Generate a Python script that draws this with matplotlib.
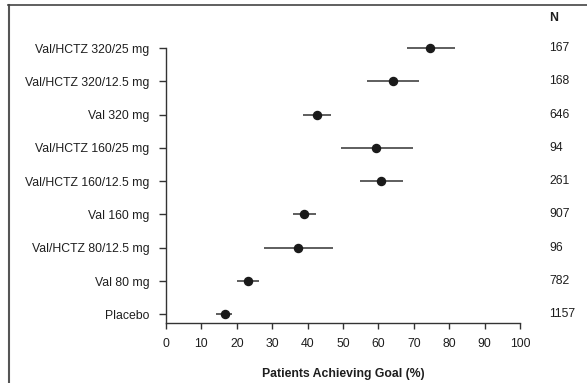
import matplotlib
matplotlib.use("Agg")
import matplotlib.pyplot as plt
from matplotlib.lines import Line2D
from matplotlib.transforms import blended_transform_factory

plt.rcParams['font.family'] = ['Liberation Sans', 'DejaVu Sans']

groups = ["Val/HCTZ 320/25 mg", "Val/HCTZ 320/12.5 mg", "Val 320 mg",
          "Val/HCTZ 160/25 mg", "Val/HCTZ 160/12.5 mg", "Val 160 mg",
          "Val/HCTZ 80/12.5 mg", "Val 80 mg", "Placebo"]
estimate = [74.7, 64.1, 42.6, 59.4, 60.7, 39.1, 37.3, 23.1, 16.6]
ci_low = [68.2, 56.9, 38.7, 49.4, 54.9, 35.8, 27.7, 20.1, 14.1]
ci_high = [81.5, 71.6, 46.6, 69.8, 67.0, 42.5, 47.3, 26.3, 18.7]
n_values = ["167", "168", "646", "94", "261", "907", "96", "782", "1157"]
x_ticks = [0, 10, 20, 30, 40, 50, 60, 70, 80, 90, 100]

W, H = 587, 383
fig = plt.figure(figsize=(W / 100, H / 100), dpi=100)
ax = fig.add_axes([166 / W, 1 - 323.3 / H, (520 - 166) / W, (323.3 - 48) / H])

fs = 8.8
k = len(groups)
ypos = [k - 1 - i for i in range(k)]
dark = "#1e1e1e"
for y, e, lo, hi in zip(ypos, estimate, ci_low, ci_high):
    ax.plot([lo, hi], [y, y], color="#333333", lw=1.1, solid_capstyle="butt", zorder=2, clip_on=False)
    ax.plot([e], [y], marker="o", ms=5.8, color="#1a1a1a", zorder=3, clip_on=False)

ax.set_xlim(0, 100)
ax.set_ylim(-0.27, k - 1)
ax.set_yticks(ypos)
ax.set_yticklabels(groups, fontsize=fs, color=dark)
ax.set_xticks(x_ticks)
ax.set_xticklabels([str(t) for t in x_ticks], fontsize=fs, color=dark)
ax.tick_params(axis="y", direction="out", length=5, width=1, color="#333333", pad=7)
ax.tick_params(axis="x", direction="out", length=4, width=1, color="#333333", pad=6.5)
for s in ["top", "right"]:
    ax.spines[s].set_visible(False)
for s in ["left", "bottom"]:
    ax.spines[s].set_color("#333333")
    ax.spines[s].set_linewidth(1)
ax.set_xlabel("Patients Achieving Goal (%)", fontsize=fs, fontweight="bold", color=dark, labelpad=13)

# N column
tr = blended_transform_factory(fig.transFigure, ax.transData)
for y, n in zip(ypos, n_values):
    ax.text(549.5 / W, y, n, transform=tr, fontsize=fs, color=dark, ha="left", va="center", clip_on=False)
fig.text(549.5 / W, 1 - 18 / H, "N", fontsize=fs, fontweight="bold", color=dark, ha="left", va="center")

# frame
fig.add_artist(Line2D([8.5 / W, 8.5 / W], [0, 1 - 5 / H], transform=fig.transFigure, color="#555555", lw=1.5))
fig.add_artist(Line2D([8 / W, 1], [1 - 5 / H, 1 - 5 / H], transform=fig.transFigure, color="#444444", lw=1.2))

fig.savefig("out.png", dpi=100)
